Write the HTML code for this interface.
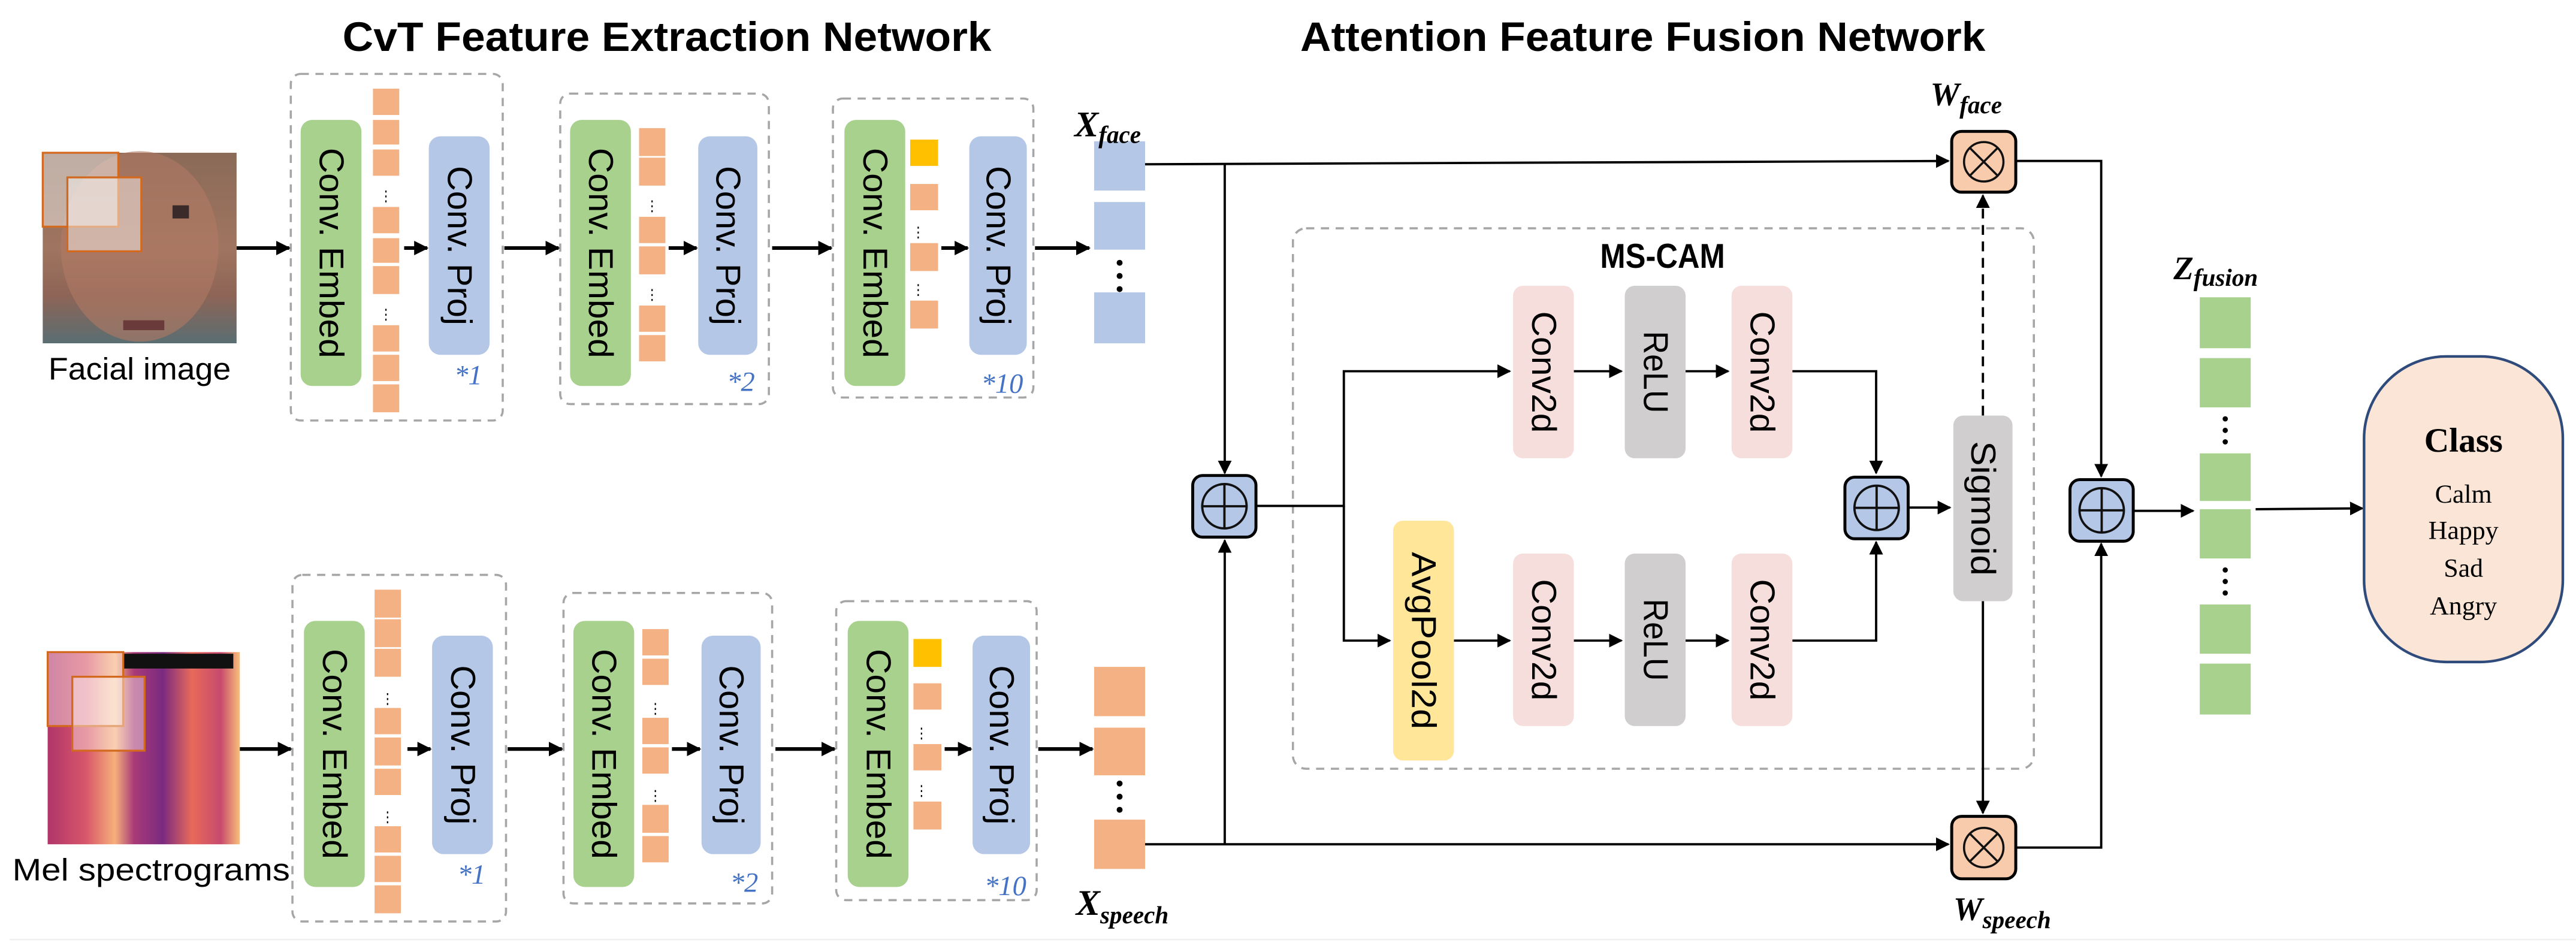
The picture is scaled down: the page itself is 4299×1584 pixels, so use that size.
<!DOCTYPE html>
<html><head><meta charset="utf-8"><style>html,body{margin:0;padding:0;background:#fff}svg{display:block}</style></head><body>
<svg xmlns="http://www.w3.org/2000/svg" width="4299" height="1584" viewBox="0 0 1568 577.75">
<defs>
<marker id="a" viewBox="0 0 10 10" refX="9" refY="5" markerWidth="4" markerHeight="4" orient="auto" markerUnits="strokeWidth"><path d="M0,0L10,5L0,10z" fill="#000"/></marker>
<marker id="b" viewBox="0 0 10 10" refX="9" refY="5" markerWidth="6" markerHeight="6" orient="auto" markerUnits="strokeWidth"><path d="M0,0L10,5L0,10z" fill="#000"/></marker>
<linearGradient id="face" x1="0" y1="0" x2="0" y2="1"><stop offset="0" stop-color="#8a6a58"/><stop offset="0.5" stop-color="#a07560"/><stop offset="0.75" stop-color="#8d6456"/><stop offset="1" stop-color="#5a6e72"/></linearGradient>
<linearGradient id="mel" x1="0" y1="0" x2="1" y2="0"><stop offset="0" stop-color="#b0356a"/><stop offset="0.2" stop-color="#d8566a"/><stop offset="0.35" stop-color="#f6b07a"/><stop offset="0.45" stop-color="#a83a78"/><stop offset="0.6" stop-color="#7a2a80"/><stop offset="0.75" stop-color="#e86a5a"/><stop offset="0.9" stop-color="#c84a6e"/><stop offset="1" stop-color="#f8c07a"/></linearGradient>
</defs>
<g font-family="'Liberation Sans', sans-serif">
<text x="406" y="31" font-size="25" font-weight="bold" text-anchor="middle" textLength="395" lengthAdjust="spacingAndGlyphs">CvT  Feature Extraction Network</text>
<text x="1000" y="31" font-size="25" font-weight="bold" text-anchor="middle" textLength="417" lengthAdjust="spacingAndGlyphs">Attention Feature Fusion Network</text>

<!-- face image -->
<rect x="26" y="93" width="118" height="116" fill="url(#face)"/>
<ellipse cx="85" cy="150" rx="48" ry="58" fill="#b07a64" opacity="0.6"/>
<rect x="26" y="93" width="46" height="45" fill="#fff" fill-opacity="0.45" stroke="#d2691e" stroke-width="1.2"/>
<rect x="41" y="108" width="45" height="45" fill="#fff" fill-opacity="0.45" stroke="#d2691e" stroke-width="1.2"/>
<rect x="105" y="125" width="10" height="8" fill="#3a2a2a"/>
<rect x="75" y="195" width="25" height="6" fill="#6a3a3a"/>
<text x="85" y="231" font-size="19" text-anchor="middle" textLength="111" lengthAdjust="spacingAndGlyphs">Facial image</text>

<!-- mel image -->
<rect x="29" y="397" width="117" height="117" fill="url(#mel)"/>
<rect x="75" y="398" width="67" height="9" fill="#111"/>
<rect x="29" y="397" width="46" height="45" fill="#fff" fill-opacity="0.4" stroke="#d2691e" stroke-width="1.2"/>
<rect x="44" y="412" width="44" height="45" fill="#fff" fill-opacity="0.4" stroke="#d2691e" stroke-width="1.2"/>
<text x="92" y="536" font-size="19" text-anchor="middle" textLength="169" lengthAdjust="spacingAndGlyphs">Mel  spectrograms</text>

<!-- dashed boxes -->
<g fill="none" stroke="#a6a6a6" stroke-width="1.3" stroke-dasharray="5,4">
<rect x="177" y="45" width="129" height="211" rx="6"/>
<rect x="341" y="57" width="127" height="189" rx="6"/>
<rect x="507" y="60" width="122" height="182" rx="6"/>
<rect x="178" y="350" width="130" height="211" rx="6"/>
<rect x="343" y="361" width="127" height="189" rx="6"/>
<rect x="509" y="366" width="122" height="182" rx="6"/>
<rect x="787" y="139" width="451" height="329" rx="8"/>
</g>

<!-- green / blue blocks -->
<g fill="#a9d18e">
<rect x="183" y="73" width="37" height="162" rx="7"/><rect x="347" y="73" width="37" height="162" rx="7"/><rect x="514" y="73" width="37" height="162" rx="7"/>
<rect x="185" y="378" width="37" height="162" rx="7"/><rect x="349" y="378" width="37" height="162" rx="7"/><rect x="516" y="378" width="37" height="162" rx="7"/>
</g>
<g fill="#b4c7e7">
<rect x="261" y="83" width="37" height="133" rx="7"/><rect x="425" y="83" width="36" height="133" rx="7"/><rect x="590" y="83" width="35" height="133" rx="7"/>
<rect x="263" y="387" width="37" height="133" rx="7"/><rect x="427" y="387" width="36" height="133" rx="7"/><rect x="592" y="387" width="35" height="133" rx="7"/>
</g>
<g font-size="21" text-anchor="middle" dominant-baseline="central">
<text transform="translate(201.5,154) rotate(90)" textLength="128" lengthAdjust="spacingAndGlyphs">Conv. Embed</text>
<text transform="translate(365.5,154) rotate(90)" textLength="128" lengthAdjust="spacingAndGlyphs">Conv. Embed</text>
<text transform="translate(532.5,154) rotate(90)" textLength="128" lengthAdjust="spacingAndGlyphs">Conv. Embed</text>
<text transform="translate(203.5,459) rotate(90)" textLength="128" lengthAdjust="spacingAndGlyphs">Conv. Embed</text>
<text transform="translate(367.5,459) rotate(90)" textLength="128" lengthAdjust="spacingAndGlyphs">Conv. Embed</text>
<text transform="translate(534.5,459) rotate(90)" textLength="128" lengthAdjust="spacingAndGlyphs">Conv. Embed</text>
<text transform="translate(279.5,149.5) rotate(90)" textLength="97" lengthAdjust="spacingAndGlyphs">Conv. Proj</text>
<text transform="translate(443,149.5) rotate(90)" textLength="97" lengthAdjust="spacingAndGlyphs">Conv. Proj</text>
<text transform="translate(607.5,149.5) rotate(90)" textLength="97" lengthAdjust="spacingAndGlyphs">Conv. Proj</text>
<text transform="translate(281.5,453.5) rotate(90)" textLength="97" lengthAdjust="spacingAndGlyphs">Conv. Proj</text>
<text transform="translate(445,453.5) rotate(90)" textLength="97" lengthAdjust="spacingAndGlyphs">Conv. Proj</text>
<text transform="translate(609.5,453.5) rotate(90)" textLength="97" lengthAdjust="spacingAndGlyphs">Conv. Proj</text>
</g>
<g font-family="'Liberation Serif', serif" font-style="italic" font-size="17" fill="#4472c4" text-anchor="middle">
<text x="285" y="234">*1</text><text x="451" y="238">*2</text><text x="610" y="239">*10</text>
<text x="287" y="538">*1</text><text x="453" y="543">*2</text><text x="612" y="545">*10</text>
</g>

<!-- orange squares -->
<g fill="#f4b183">
<rect x="227" y="54" width="16" height="16"/><rect x="227" y="73" width="16" height="15"/><rect x="227" y="91" width="16" height="16"/>
<rect x="227" y="126" width="16" height="16"/><rect x="227" y="145" width="16" height="15"/><rect x="227" y="162" width="16" height="17"/>
<rect x="227" y="198" width="16" height="16"/><rect x="227" y="216" width="16" height="16"/><rect x="227" y="234" width="16" height="17"/>
<rect x="389" y="78" width="16" height="17"/><rect x="389" y="96" width="16" height="17"/><rect x="389" y="132" width="16" height="16"/><rect x="389" y="150" width="16" height="17"/><rect x="389" y="186" width="16" height="16"/><rect x="389" y="204" width="16" height="16"/>
<rect x="554" y="112" width="17" height="16"/><rect x="554" y="148" width="17" height="17"/><rect x="554" y="183" width="17" height="17"/>
<rect x="228" y="359" width="16" height="17"/><rect x="228" y="377" width="16" height="17"/><rect x="228" y="395" width="16" height="17"/>
<rect x="228" y="431" width="16" height="16"/><rect x="228" y="449" width="16" height="17"/><rect x="228" y="468" width="16" height="16"/>
<rect x="228" y="503" width="16" height="16"/><rect x="228" y="521" width="16" height="16"/><rect x="228" y="539" width="16" height="17"/>
<rect x="391" y="383" width="16" height="16"/><rect x="391" y="401" width="16" height="16"/><rect x="391" y="437" width="16" height="16"/><rect x="391" y="455" width="16" height="16"/><rect x="391" y="490" width="16" height="17"/><rect x="391" y="509" width="16" height="16"/>
<rect x="556" y="416" width="17" height="16"/><rect x="556" y="453" width="17" height="16"/><rect x="556" y="488" width="17" height="17"/>
<rect x="666" y="406" width="31" height="30"/><rect x="666" y="443" width="31" height="29"/><rect x="666" y="499" width="31" height="30"/>
</g>
<rect x="554" y="85" width="17" height="16" fill="#ffc000"/>
<rect x="556" y="389" width="17" height="17" fill="#ffc000"/>
<g fill="#b4c7e7"><rect x="666" y="86" width="31" height="30"/><rect x="666" y="123" width="31" height="29"/><rect x="666" y="178" width="31" height="31"/></g>
<!-- small dots -->
<g fill="#000">
<rect x="234.5" y="116" width="0.8" height="1.2"/><rect x="234.5" y="119" width="0.8" height="1.2"/><rect x="234.5" y="122" width="0.8" height="1.2"/>
<rect x="234.5" y="188" width="0.8" height="1.2"/><rect x="234.5" y="191" width="0.8" height="1.2"/><rect x="234.5" y="194" width="0.8" height="1.2"/>
<rect x="396.5" y="122" width="0.8" height="1.2"/><rect x="396.5" y="125" width="0.8" height="1.2"/><rect x="396.5" y="128" width="0.8" height="1.2"/>
<rect x="396.5" y="176" width="0.8" height="1.2"/><rect x="396.5" y="179" width="0.8" height="1.2"/><rect x="396.5" y="182" width="0.8" height="1.2"/>
<rect x="558.5" y="138" width="0.8" height="1.2"/><rect x="558.5" y="141" width="0.8" height="1.2"/><rect x="558.5" y="144" width="0.8" height="1.2"/>
<rect x="558.5" y="173" width="0.8" height="1.2"/><rect x="558.5" y="176" width="0.8" height="1.2"/><rect x="558.5" y="179" width="0.8" height="1.2"/>
<rect x="235.5" y="422" width="0.8" height="1.2"/><rect x="235.5" y="425" width="0.8" height="1.2"/><rect x="235.5" y="428" width="0.8" height="1.2"/>
<rect x="235.5" y="494" width="0.8" height="1.2"/><rect x="235.5" y="497" width="0.8" height="1.2"/><rect x="235.5" y="500" width="0.8" height="1.2"/>
<rect x="398.5" y="428" width="0.8" height="1.2"/><rect x="398.5" y="431" width="0.8" height="1.2"/><rect x="398.5" y="434" width="0.8" height="1.2"/>
<rect x="398.5" y="481" width="0.8" height="1.2"/><rect x="398.5" y="484" width="0.8" height="1.2"/><rect x="398.5" y="487" width="0.8" height="1.2"/>
<rect x="560.5" y="443" width="0.8" height="1.2"/><rect x="560.5" y="446" width="0.8" height="1.2"/><rect x="560.5" y="449" width="0.8" height="1.2"/>
<rect x="560.5" y="478" width="0.8" height="1.2"/><rect x="560.5" y="481" width="0.8" height="1.2"/><rect x="560.5" y="484" width="0.8" height="1.2"/>
<circle cx="681.5" cy="160" r="1.8"/><circle cx="681.5" cy="168" r="1.8"/><circle cx="681.5" cy="176" r="1.8"/>
<circle cx="681.5" cy="477" r="1.8"/><circle cx="681.5" cy="485" r="1.8"/><circle cx="681.5" cy="493" r="1.8"/>
<circle cx="1354.5" cy="255" r="1.6"/><circle cx="1354.5" cy="262" r="1.6"/><circle cx="1354.5" cy="269" r="1.6"/>
<circle cx="1354.5" cy="347" r="1.6"/><circle cx="1354.5" cy="354" r="1.6"/><circle cx="1354.5" cy="361" r="1.6"/>
</g>

<!-- thick arrows left -->
<g stroke="#000" stroke-width="2.2" marker-end="url(#a)" fill="none">
<path d="M144 151H176"/><path d="M246 151H260"/><path d="M307 151H340"/><path d="M407 151H424"/><path d="M470 151H506"/><path d="M573 151H589"/><path d="M630 151H663"/>
<path d="M146 456H177"/><path d="M248 456H262"/><path d="M309 456H342"/><path d="M409 456H426"/><path d="M472 456H508"/><path d="M575 456H591"/><path d="M632 456H665"/>
</g>

<!-- labels X -->
<g font-family="'Liberation Serif', serif" font-weight="bold" font-style="italic">
<text x="654" y="83" font-size="22">X<tspan font-size="15" dy="4">face</tspan></text>
<text x="655" y="557" font-size="22">X<tspan font-size="15" dy="5">speech</tspan></text>
<text x="1175" y="64" font-size="20">W<tspan font-size="15" dy="5">face</tspan></text>
<text x="1189" y="560" font-size="20">W<tspan font-size="15" dy="5">speech</tspan></text>
<text x="1323" y="170" font-size="20">Z<tspan font-size="15" dy="4">fusion</tspan></text>
</g>

<!-- fusion lines -->
<g stroke="#000" stroke-width="1.4" fill="none">
<path d="M697 100L1186 98" marker-end="url(#b)"/>
<path d="M745.5 100V288" marker-end="url(#b)"/>
<path d="M697 514H1186" marker-end="url(#b)"/>
<path d="M745.5 514V329" marker-end="url(#b)"/>
<path d="M765 308H818V226H919" marker-end="url(#b)"/>
<path d="M818 308V390H846" marker-end="url(#b)"/>
<path d="M958 226H987" marker-end="url(#b)"/>
<path d="M1026 226H1052" marker-end="url(#b)"/>
<path d="M885 390H919" marker-end="url(#b)"/>
<path d="M958 390H987" marker-end="url(#b)"/>
<path d="M1026 390H1052" marker-end="url(#b)"/>
<path d="M1091 226H1142V288" marker-end="url(#b)"/>
<path d="M1091 390H1142V330" marker-end="url(#b)"/>
<path d="M1162 309H1187" marker-end="url(#b)"/>
<path d="M1207 253V119" stroke-dasharray="6,4" marker-end="url(#b)"/>
<path d="M1207 366V495" marker-end="url(#b)"/>
<path d="M1227 98H1279V290" marker-end="url(#b)"/>
<path d="M1227 516H1279V331" marker-end="url(#b)"/>
<path d="M1298 311H1335" marker-end="url(#b)"/>
<path d="M1373 310L1438 309.5" marker-end="url(#b)"/>
</g>

<!-- MS-CAM blocks -->
<text x="1012" y="163" font-size="21" font-weight="bold" text-anchor="middle" textLength="76" lengthAdjust="spacingAndGlyphs">MS-CAM</text>
<g>
<rect x="921" y="174" width="37" height="105" rx="6" fill="#f6dedd"/><rect x="989" y="174" width="37" height="105" rx="6" fill="#d0cece"/><rect x="1054" y="174" width="37" height="105" rx="6" fill="#f6dedd"/>
<rect x="921" y="337" width="37" height="105" rx="6" fill="#f6dedd"/><rect x="989" y="337" width="37" height="105" rx="6" fill="#d0cece"/><rect x="1054" y="337" width="37" height="105" rx="6" fill="#f6dedd"/>
<rect x="848" y="317" width="37" height="146" rx="6" fill="#ffe699"/>
<rect x="1189" y="253" width="36" height="113" rx="6" fill="#d0cece"/>
</g>
<g font-size="21" text-anchor="middle" dominant-baseline="central">
<text transform="translate(939.5,226.5) rotate(90)" textLength="74" lengthAdjust="spacingAndGlyphs">Conv2d</text>
<text transform="translate(1007.5,226.5) rotate(90)" textLength="50" lengthAdjust="spacingAndGlyphs">ReLU</text>
<text transform="translate(1072.5,226.5) rotate(90)" textLength="74" lengthAdjust="spacingAndGlyphs">Conv2d</text>
<text transform="translate(939.5,389.5) rotate(90)" textLength="74" lengthAdjust="spacingAndGlyphs">Conv2d</text>
<text transform="translate(1007.5,389.5) rotate(90)" textLength="50" lengthAdjust="spacingAndGlyphs">ReLU</text>
<text transform="translate(1072.5,389.5) rotate(90)" textLength="74" lengthAdjust="spacingAndGlyphs">Conv2d</text>
<text transform="translate(866.5,390) rotate(90)" textLength="108" lengthAdjust="spacingAndGlyphs">AvgPool2d</text>
<text transform="translate(1207,309.5) rotate(90)" textLength="82" lengthAdjust="spacingAndGlyphs">Sigmoid</text>
</g>

<!-- plus nodes -->
<g stroke="#000" stroke-width="1.8">
<rect x="726" y="289.5" width="38.5" height="37.5" rx="6" fill="#b4c7e7"/>
<rect x="1123" y="290.5" width="38.5" height="37.5" rx="6" fill="#b4c7e7"/>
<rect x="1260" y="292" width="38.5" height="37.5" rx="6" fill="#b4c7e7"/>
</g>
<g stroke="#111" stroke-width="1.4" fill="none">
<circle cx="745.3" cy="308.2" r="13.5"/><path d="M745.3 294.7V321.7M731.8 308.2H758.8"/>
<circle cx="1142.3" cy="309.2" r="13.5"/><path d="M1142.3 295.7V322.7M1128.8 309.2H1155.8"/>
<circle cx="1279.3" cy="310.7" r="13.5"/><path d="M1279.3 297.2V324.2M1265.8 310.7H1292.8"/>
</g>
<!-- otimes -->
<g stroke="#000" stroke-width="1.8" fill="#f8cbad">
<rect x="1188" y="80" width="39" height="37" rx="6"/>
<rect x="1188" y="497" width="39" height="38" rx="6"/>
</g>
<g stroke="#111" stroke-width="1.3" fill="none">
<circle cx="1207.5" cy="98.5" r="12"/><path d="M1199 90L1216 107M1216 90L1199 107"/>
<circle cx="1207.5" cy="516" r="12"/><path d="M1199 507.5L1216 524.5M1216 507.5L1199 524.5"/>
</g>

<!-- Z fusion squares -->
<g fill="#a9d18e">
<rect x="1339" y="181" width="31" height="31"/><rect x="1339" y="218" width="31" height="30"/><rect x="1339" y="276" width="31" height="29"/><rect x="1339" y="310" width="31" height="30"/><rect x="1339" y="368" width="31" height="30"/><rect x="1339" y="404" width="31" height="31"/>
</g>

<!-- Class -->
<rect x="1439" y="217" width="121" height="186" rx="50" fill="#fbe5d6" stroke="#2f4b7c" stroke-width="1.6"/>
<g font-family="'Liberation Serif', serif" text-anchor="middle">
<text x="1499.5" y="275" font-size="21" font-weight="bold">Class</text>
<text x="1499.5" y="306" font-size="16">Calm</text>
<text x="1499.5" y="328" font-size="16">Happy</text>
<text x="1499.5" y="351" font-size="16">Sad</text>
<text x="1499.5" y="374" font-size="16">Angry</text>
</g>
<path d="M6 572H1568" stroke="#eeeeee" stroke-width="0.8"/>
</g>
</svg>
</body></html>
